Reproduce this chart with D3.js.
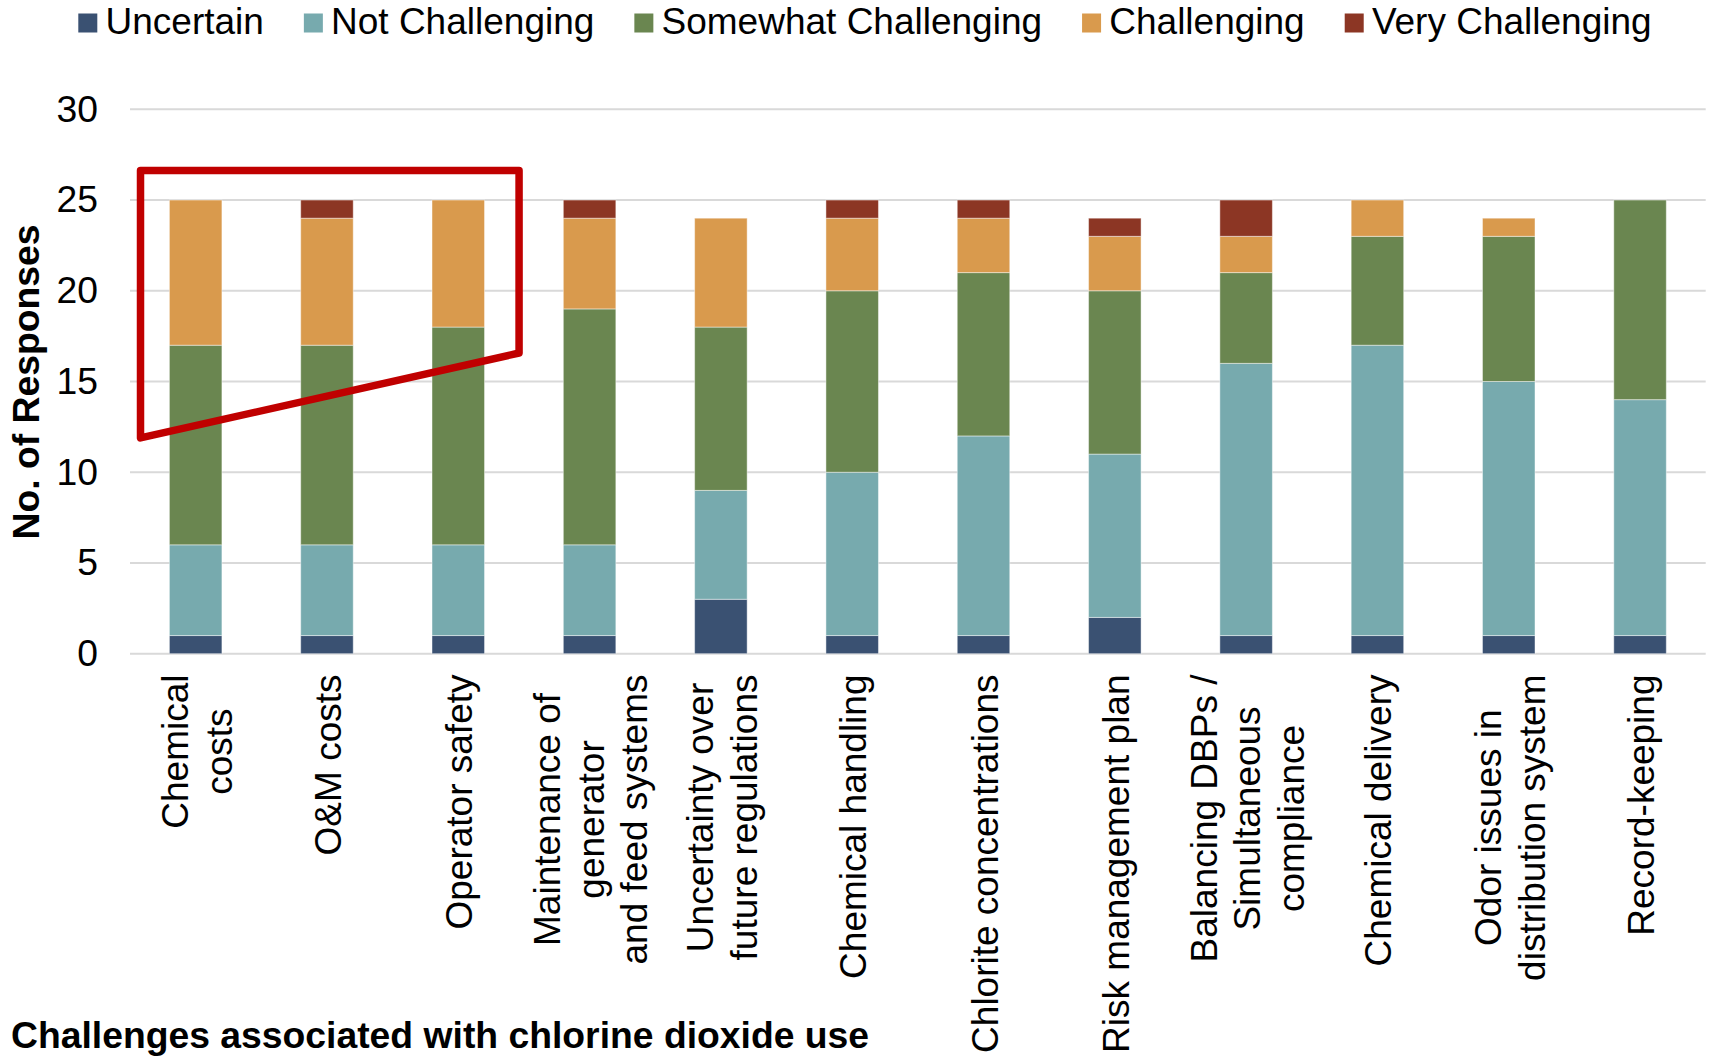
<!DOCTYPE html>
<html>
<head>
<meta charset="utf-8">
<script src="https://cdn.jsdelivr.net/npm/d3@7"></script>
<style>
  html, body { margin: 0; padding: 0; background: #fff; }
  svg { display: block; font-family: "Liberation Sans", Arial, sans-serif; }
</style>
</head>
<body>
<svg id="chart" width="1711" height="1056"></svg>
<script>
// Survey responses: challenges associated with chlorine dioxide use
const categories = [
  "Chemical costs", "O&M costs", "Operator safety",
  "Maintenance of generator and feed systems",
  "Uncertainty over future regulations", "Chemical handling",
  "Chlorite concentrations", "Risk management plan",
  "Balancing DBPs / Simultaneous compliance", "Chemical delivery",
  "Odor issues in distribution system", "Record-keeping"
];
// Axis label text, broken into lines
const categoryLines = [
  ["Chemical", "costs"], ["O&M costs"], ["Operator safety"],
  ["Maintenance of", "generator", "and feed systems"],
  ["Uncertainty over", "future regulations"], ["Chemical handling"],
  ["Chlorite concentrations"], ["Risk management plan"],
  ["Balancing DBPs /", "Simultaneous", "compliance"], ["Chemical delivery"],
  ["Odor issues in", "distribution system"], ["Record-keeping"]
];

const seriesNames = ["Uncertain", "Not Challenging", "Somewhat Challenging", "Challenging", "Very Challenging"];
const uncertain          = [1, 1, 1, 1, 3, 1, 1, 2, 1, 1, 1, 1];
const notChallenging     = [5, 5, 5, 5, 6, 9, 11, 9, 15, 16, 14, 13];
const somewhatChallenging= [11, 11, 12, 13, 9, 10, 9, 9, 5, 6, 8, 11];
const challenging        = [8, 7, 7, 5, 6, 4, 3, 3, 2, 2, 1, 0];
const veryChallenging    = [0, 1, 0, 1, 0, 1, 1, 1, 2, 0, 0, 0];
const seriesColors = ["#3A5172", "#77AAAE", "#6A8650", "#D99A4D", "#8C3624"];

const yTicks = [0, 5, 10, 15, 20, 25, 30];

// Highlight outline around the first three categories: [category units, value]
const highlightOutline = [[0.08, 26.63], [2.963, 26.63], [2.963, 16.57], [0.08, 11.89]];

const seriesValues = [uncertain, notChallenging, somewhatChallenging, challenging, veryChallenging];
const rows = categories.map((c, i) => {
  const r = { category: c };
  seriesNames.forEach((s, k) => { r[s] = seriesValues[k][i]; });
  return r;
});

const svg = d3.select("#chart");
const fontSize = 37.3;

const x = d3.scaleBand().domain(categories).range([130, 1705.7]).paddingInner(0.6).paddingOuter(0.3);
const y = d3.scaleLinear().domain([0, 30]).range([653.7, 109.3]);
const xUnits = d3.scaleLinear().domain([0, categories.length]).range(x.range());
const color = d3.scaleOrdinal().domain(seriesNames).range(seriesColors);

// Gridlines
svg.append("g").selectAll("line").data(yTicks).join("line")
  .attr("x1", x.range()[0]).attr("x2", x.range()[1])
  .attr("y1", d => y(d)).attr("y2", d => y(d))
  .attr("stroke", "#D9D9D9").attr("stroke-width", 2);

// Y axis tick labels
const yAxis = svg.append("g").attr("transform", `translate(${x.range()[0]},0)`)
  .call(d3.axisLeft(y).tickValues(yTicks).tickSize(0).tickPadding(32));
yAxis.select(".domain").remove();
yAxis.selectAll("text").attr("font-size", fontSize).attr("fill", "#000")
  .attr("font-family", "'Liberation Sans', Arial, sans-serif");

// Stacked bars
const stacked = d3.stack().keys(seriesNames)(rows);
svg.append("g").selectAll("g").data(stacked).join("g")
  .attr("fill", d => color(d.key))
  .selectAll("rect").data(d => d.filter(p => p[1] > p[0])).join("rect")
  .attr("x", d => x(d.data.category))
  .attr("width", x.bandwidth())
  .attr("y", d => y(d[1]))
  .attr("height", d => y(d[0]) - y(d[1]))
  .attr("stroke", "rgba(255,255,255,0.45)").attr("stroke-width", 1);

// Category labels, rotated, centred on the bars
const labelTop = 674.5;
const lineH = 43.6;
const labels = svg.append("g").attr("font-size", 37).attr("fill", "#000");
categories.forEach((c, i) => {
  const lines = categoryLines[i];
  const cx = x(c) + x.bandwidth() / 2;
  const g = labels.append("g");
  const texts = lines.map((ln, j) => g.append("text").text(ln));
  const maxLen = d3.max(texts, t => t.node().getComputedTextLength());
  const cy = labelTop + maxLen / 2;
  texts.forEach((t, j) => {
    const off = (j - (lines.length - 1) / 2) * lineH;
    t.attr("text-anchor", "middle")
      .attr("transform", `translate(${cx + off},${cy}) rotate(-90)`)
      .attr("dy", "0.38em");
  });
});

// Axis titles
svg.append("text")
  .attr("transform", "translate(39,382) rotate(-90)")
  .attr("text-anchor", "middle").attr("font-weight", "bold")
  .attr("font-size", fontSize).text("No. of Responses");
svg.append("text")
  .attr("x", 11).attr("y", 1047.5)
  .attr("font-weight", "bold").attr("font-size", fontSize)
  .text("Challenges associated with chlorine dioxide use");

// Legend
const legend = svg.append("g");
let lx = 78.3;
seriesNames.forEach((s, k) => {
  legend.append("rect").attr("x", lx).attr("y", 13.5).attr("width", 19).attr("height", 19)
    .attr("fill", seriesColors[k]);
  const t = legend.append("text").attr("x", lx + 27.2).attr("y", 34.3)
    .attr("font-size", 37).text(s);
  lx += 27.2 + t.node().getComputedTextLength() + 40;
});

// Highlight outline
svg.append("path")
  .attr("d", d3.line().x(d => xUnits(d[0])).y(d => y(d[1]))(highlightOutline) + "Z")
  .attr("fill", "none").attr("stroke", "#C00000").attr("stroke-width", 7.5)
  .attr("stroke-linejoin", "round");
</script>
</body>
</html>
